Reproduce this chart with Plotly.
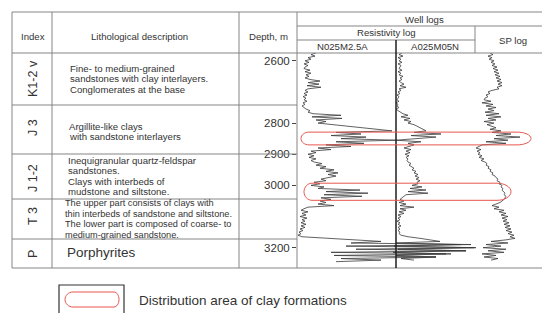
import plotly.graph_objects as go

# ---------------- data ----------------
depth = list(range(2575, 3266, 5))  # m

n025m25a = [
    20, 15, 19, 12, 15, 9, 13, 8, 12, 9,
    8, 14, 9, 15, 10, 13, 9, 14, 24, 12,
    23, 11, 25, 12, 9, 12, 8, 11, 7, 10,
    8, 11, 7, 9, 6, 8, 10, 14, 12, 17,
    45, 16, 46, 20, 30, 22, 38, 52, 66, 80,
    96, 40, 65, 35, 70, 45, 100, 40, 68, 30,
    55, 22, 35, 15, 20, 12, 18, 13, 20, 15,
    18, 26, 20, 30, 24, 38, 30, 42, 32, 40,
    34, 25, 30, 18, 24, 15, 28, 22, 64, 30,
    72, 28, 66, 25, 35, 24, 30, 22, 38, 12,
    8, 5, 12, 6, 10, 4, 11, 6, 9, 5,
    10, 5, 9, 4, 7, 3, 5, 2, 6, 30,
    60, 85, 55, 175, 50, 180, 60, 170, 35, 155,
    38, 140, 45, 85, 40, None, None, None, None,
]

a025m05n = [
    106, 103, 107, 102, 105, 103, 106, 102, 105, 104,
    103, 106, 102, 105, 103, 107, 104, 106, 103, 105,
    108, 104, 110, 103, 105, 102, 104, 101, 103, 102,
    101, 103, 100, 102, 101, 103, 100, 102, 104, 107,
    112, 105, 114, 108, 115, 112, 118, 121, 125, 128,
    130, 118, 145, 115, 140, 120, 100, 125, 112, 118,
    112, 108, 115, 110, 114, 109, 113, 110, 112, 111,
    112, 115, 113, 116, 118, 116, 120, 118, 122, 119,
    123, 120, 124, 121, 122, 116, 126, 114, 130, 112,
    132, 110, 108, 106, 104, 108, 103, 110, 104, 118,
    104, 110, 103, 108, 102, 105, 102, 104, 101, 104,
    102, 105, 102, 104, 102, 104, 103, 105, 112, 124,
    134, 144, 100, 165, 98, 178, 102, 170, 97, 150,
    100, 140, 105, 118, None, None, None, None, None,
]

sp_log = [
    194, 197, 192, 196, 193, 198, 195, 199, 196, 201,
    197, 202, 198, 203, 199, 204, 200, 205, 201, 206,
    202, 206, 201, 203, 196, 192, 194, 190, 192, 189,
    188, 195, 186, 197, 190, 200, 192, 198, 189, 203,
    190, 205, 192, 200, 188, 198, 191, 196, 200, 194,
    205, 196, 215, 200, 224, 198, 212, 190, 210, 186,
    183, 180, 185, 181, 184, 182, 186, 183, 188, 185,
    189, 191, 190, 193, 192, 195, 194, 197, 196, 199,
    200, 202, 201, 204, 203, 206, 205, 207, 206, 208,
    209, 208, 210, 209, 208, 206, 204, 200, 196, 203,
    198, 208, 203, 210, 205, 212, 206, 211, 207, 213,
    208, 214, 209, 215, 210, 216, 212, 218, 214, 219,
    210, 195, 212, 190, 205, 187, 210, 192, 208, 186,
    200, 188, 202, 195, None, None, None, None, None,
]

depth_ticks = [2600, 2800, 2900, 3000, 3200]

# clay zones: (x from, x to, top depth, bottom depth)
clay_zones = [(5, 235, 2829, 2870), (8, 215, 2993, 3048)]

index_labels = ["K1-2 v", "J 3", "J 1-2", "T 3", "P"]
descriptions = [
    ["Fine- to medium-grained", "sandstones with clay interlayers.", "Conglomerates at the base"],
    ["Argillite-like clays", "with sandstone interlayers"],
    ["Inequigranular quartz-feldspar", "sandstones.", "Clays with interbeds of", "mudstone and siltstone."],
    ["The upper part consists of clays with", "thin interbeds of sandstone and siltstone.",
     "The lower part is composed of coarse- to", "medium-grained sandstone."],
    ["Porphyrites"],
]
legend_text = "Distribution area of clay formations"

# ---------------- layout helpers ----------------
W, H = 550, 313
FONT = "Liberation Sans, Arial, Helvetica, sans-serif"
TXT = "#333333"
GRID = "#858585"


def px(x):
    return x / W


def py(y):
    return 1 - y / H


def loop_path(x0, x1, y0, y1, rl, rr):
    k = 0.5523
    ym = (y0 + y1) / 2
    hy = (y1 - y0) / 2
    return (
        f"M {x0 + rl},{y0} L {x1 - rr},{y0} "
        f"C {x1 - rr + k * rr},{y0} {x1},{ym - k * hy} {x1},{ym} "
        f"C {x1},{ym + k * hy} {x1 - rr + k * rr},{y1} {x1 - rr},{y1} "
        f"L {x0 + rl},{y1} "
        f"C {x0 + rl - k * rl},{y1} {x0},{ym + k * hy} {x0},{ym} "
        f"C {x0},{ym - k * hy} {x0 + rl - k * rl},{y0} {x0 + rl},{y0} Z"
    )


fig = go.Figure()
for vals in (n025m25a, a025m05n, sp_log):
    fig.add_trace(go.Scatter(
        x=vals, y=depth, mode="lines",
        line=dict(color="#3a3a3a", width=0.8),
        hoverinfo="skip", showlegend=False, connectgaps=False,
    ))

shapes = []


def hline(y, x0, x1, color=GRID, w=1):
    shapes.append(dict(type="line", xref="paper", yref="paper",
                       x0=px(x0), x1=px(x1), y0=py(y), y1=py(y),
                       line=dict(color=color, width=w)))


def vline(x, y0, y1, color=GRID, w=1):
    shapes.append(dict(type="line", xref="paper", yref="paper",
                       x0=px(x), x1=px(x), y0=py(y0), y1=py(y1),
                       line=dict(color=color, width=w)))


# table frame
hline(4, 4, 544)
hline(260, 4, 544)
vline(4, 4, 260)
vline(544, 4, 260)
vline(44, 4, 260)
vline(231, 4, 260)
vline(289, 4, 260)
hline(18, 289, 544)
hline(32, 289, 467)
vline(467, 18, 45)
hline(45, 4, 544)
for yy in (97, 146, 191, 231):
    hline(yy, 4, 289)
vline(388, 32, 260, color="#1e1e1e", w=1.5)

# clay zones
for (x0, x1, d0, d1) in clay_zones:
    shapes.append(dict(type="path", xref="x", yref="y",
                       path=loop_path(x0, x1, d0, d1, 8, 14),
                       line=dict(color="#e8574f", width=1)))

# legend box
shapes.append(dict(type="rect", xref="paper", yref="paper",
                   x0=px(51), x1=px(116), y0=py(277), y1=py(307),
                   line=dict(color="#333333", width=1.2)))
shapes.append(dict(type="path", xref="paper", yref="paper",
                   path=loop_path(px(57), px(111), py(284), py(299), px(8), px(5)),
                   line=dict(color="#e8574f", width=1)))

ann = []


def text(t, x, y, size=9.6, anchor="center", angle=0):
    ann.append(dict(text=t, x=px(x), y=py(y), xref="paper", yref="paper",
                    showarrow=False, xanchor=anchor, yanchor="middle",
                    textangle=angle, font=dict(family=FONT, size=size, color=TXT)))


# headers
text("Index", 25, 28)
text("Lithological description", 131, 28)
text("Depth, m", 260, 28)
text("Well logs", 416, 11.5)
text("Resistivity log", 378, 24.5)
text("SP log", 505, 32)
text("N025M2.5A", 334, 38.5)
text("A025M05N", 427, 38.5)

# index labels
idx_y = [71, 120, 170, 208, 246]
for lab, yy in zip(index_labels, idx_y):
    text(lab, 25, yy, size=12.5, angle=-90)

# descriptions
desc_pos = [
    (60, [60, 71, 81.5], 9.6),
    (59, [118, 128.5], 9.6),
    (58, [152, 162.8, 173.4, 183.8], 9.6),
    (55, [195.5, 206, 216.3, 226.7], 9.2),
    (57, [244.5], 13.5),
]
for lines, (x0, ys, sz) in zip(descriptions, desc_pos):
    for line, yy in zip(lines, ys):
        text(line, x0, yy, size=sz, anchor="left")

text(legend_text, 129, 292, size=13.5, anchor="left")

fig.update_layout(
    width=W, height=H,
    margin=dict(l=0, r=0, t=0, b=0),
    paper_bgcolor="white", plot_bgcolor="white",
    shapes=shapes, annotations=ann,
    xaxis=dict(domain=[px(289), px(544)], range=[1, 256], visible=False),
    yaxis=dict(domain=[py(260), py(45)], range=[3265.3, 2575],
               tickvals=depth_ticks, ticks="outside", ticklen=4,
               tickcolor="#444444", showgrid=False, zeroline=False,
               showline=False,
               tickfont=dict(family=FONT, size=11.5, color=TXT)),
)

fig.write_html("out.html")
